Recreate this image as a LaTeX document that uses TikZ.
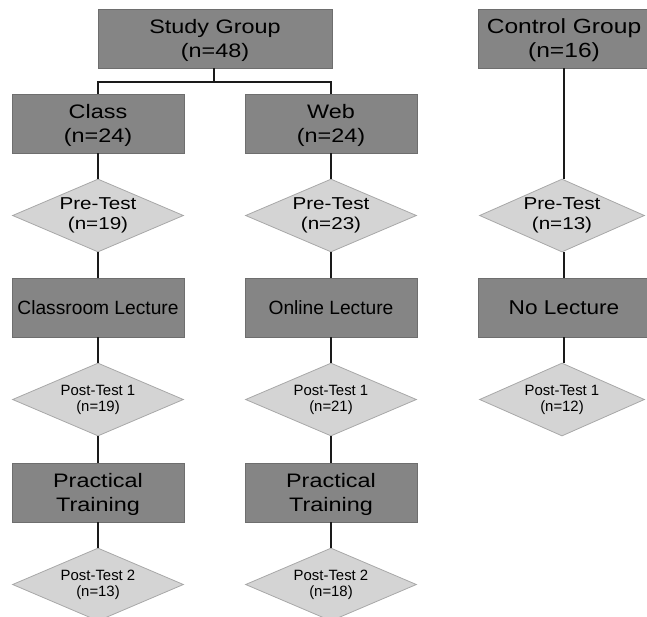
\documentclass[tikz,border=0pt]{standalone}
\usepackage{fontspec}
\setmainfont{Liberation Sans}
\newfontfamily\widefont[FakeStretch=1.2]{Liberation Sans}
\newfontfamily\semiwidefont[FakeStretch=1.13]{Liberation Sans}
\usetikzlibrary{shapes.geometric}
\definecolor{boxfill}{HTML}{858585}
\definecolor{boxline}{HTML}{6E6E6E}
\definecolor{dfill}{HTML}{D4D4D4}
\definecolor{dline}{HTML}{A8A8A8}
\definecolor{conn}{HTML}{1A1A1A}
\tikzset{
  darkbox/.style={rectangle, fill=boxfill, draw=boxline, line width=0.8pt,
    minimum width=172pt, minimum height=59pt, inner sep=0pt, align=center},
  bigtxt/.style={font=\widefont\fontsize{19.5}{24}\selectfont, text depth=0pt},
  medtxt/.style={font=\fontsize{19.2}{20}\selectfont},
  nolect/.style={font=\semiwidefont\fontsize{20}{20}\selectfont},
  testdia/.style={diamond, fill=dfill, draw=dline, line width=0.8pt,
    minimum width=171pt, minimum height=73pt, inner sep=-14pt, align=center},
  difont/.style={font=\widefont\fontsize{17.2}{19.5}\selectfont},
  smfont/.style={font=\fontsize{14.9}{16}\selectfont},
  link/.style={draw=conn, line width=2.2pt}
}
\begin{document}
\begin{tikzpicture}[x=1pt,y=-1pt]
\useasboundingbox (0,0) rectangle (647,616);
% boxes
\node[darkbox, bigtxt, minimum width=234pt] (sg) at (215,38.5) {Study Group\\(n=48)};
\node[darkbox, bigtxt, font=\widefont\fontsize{20.5}{24}\selectfont] (ctrl) at (564,38.5) {Control Group\\(n=16)};
\node[darkbox, bigtxt] (class) at (98,123.5) {Class\\(n=24)};
\node[darkbox, bigtxt] (web) at (331,123.5) {Web\\(n=24)};
% pre-test
\node[testdia, difont] (pre1) at (98,215.5) {Pre-Test\\(n=19)};
\node[testdia, difont] (pre2) at (331,215.5) {Pre-Test\\(n=23)};
\node[testdia, difont, minimum width=165pt] (pre3) at (562,215.5) {Pre-Test\\(n=13)};
% lectures
\node[darkbox, medtxt] (lec1) at (98,307.5) {Classroom Lecture};
\node[darkbox, medtxt] (lec2) at (331,307.5) {Online Lecture};
\node[darkbox, nolect] (lec3) at (564,307.5) {No Lecture};
% post-test 1
\node[testdia, smfont] (pa1) at (98,399.5) {Post-Test 1\\(n=19)};
\node[testdia, smfont] (pa2) at (331,399.5) {Post-Test 1\\(n=21)};
\node[testdia, smfont, minimum width=165pt] (pa3) at (562,399.5) {Post-Test 1\\(n=12)};
% practical training
\node[darkbox, bigtxt] (pt1) at (98,492.5) {Practical\\Training};
\node[darkbox, bigtxt] (pt2) at (331,492.5) {Practical\\Training};
% post-test 2
\node[testdia, smfont] (pb1) at (98,584.5) {Post-Test 2\\(n=13)};
\node[testdia, smfont] (pb2) at (331,584.5) {Post-Test 2\\(n=18)};
% connectors
\coordinate (br) at (214,82);
\draw[link] (sg.south -| br) -- (br);
\draw[link] (class.north) -- (class.north |- br) -- (web.north |- br) -- (web.north);
\draw[link] (class.south) -- (pre1.north);
\draw[link] (web.south) -- (pre2.north);
\draw[link] (ctrl.south) -- (ctrl.south |- pre3.north);
\draw[link] (pre1.south) -- (lec1.north);
\draw[link] (pre2.south) -- (lec2.north);
\draw[link] (lec3.north |- pre3.south) -- (lec3.north);
\draw[link] (lec1.south) -- (pa1.north);
\draw[link] (lec2.south) -- (pa2.north);
\draw[link] (lec3.south) -- (lec3.south |- pa3.north);
\draw[link] (pa1.south) -- (pt1.north);
\draw[link] (pa2.south) -- (pt2.north);
\draw[link] (pt1.south) -- (pb1.north);
\draw[link] (pt2.south) -- (pb2.north);
\end{tikzpicture}
\end{document}
